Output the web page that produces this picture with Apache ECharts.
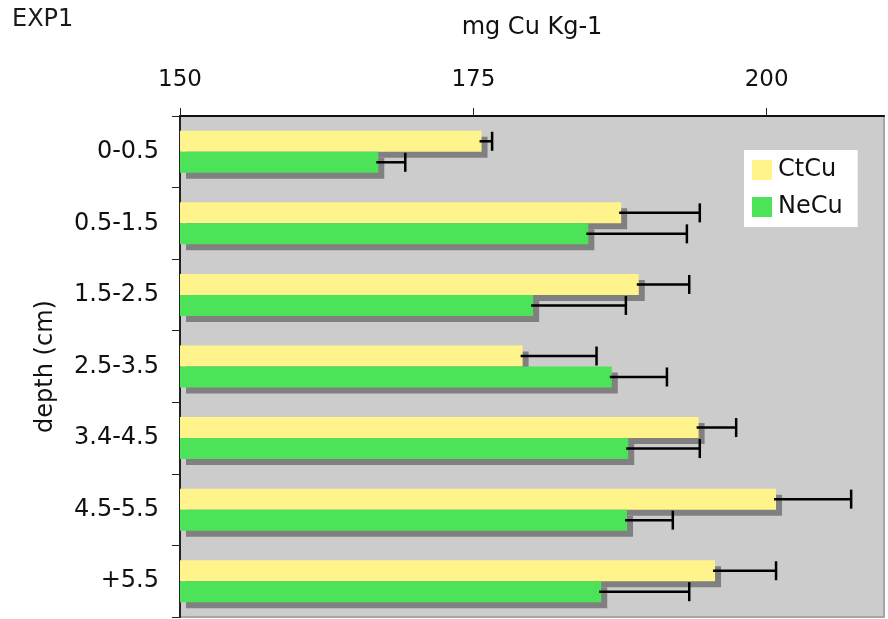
<!DOCTYPE html>
<html>
<head>
<meta charset="utf-8">
<script src="https://cdn.jsdelivr.net/npm/echarts@6/dist/echarts.min.js"></script>
<style>
html,body{margin:0;padding:0;background:#fff;}
#c{width:888px;height:619px;}
</style>
</head>
<body>
<div id="c"></div>
<script>
var categories = ['0-0.5', '0.5-1.5', '1.5-2.5', '2.5-3.5', '3.4-4.5', '4.5-5.5', '+5.5'];
var ctCu    = [175.7, 187.6, 189.1, 179.2, 194.2, 200.8, 195.6];
var ctCuErr = [0.9, 6.7, 4.3, 6.3, 3.2, 6.4, 5.2];
var neCu    = [166.9, 184.8, 180.1, 186.8, 188.2, 188.1, 185.9];
var neCuErr = [2.3, 8.4, 7.9, 4.7, 6.1, 3.9, 7.5];
var xTicks  = [150, 175, 200];

var FONT = 'DejaVu Sans';
var chart = echarts.init(document.getElementById('c'), null, {renderer: 'canvas'});

function errSeries(vals, errs, offset) {
  return {
    type: 'custom',
    z: 10,
    silent: true,
    encode: {x: 0, y: 1},
    data: vals.map(function (v, i) { return [v, i, errs[i]]; }),
    renderItem: function (params, api) {
      var v = api.value(0), c = api.value(1), e = api.value(2);
      var p0 = api.coord([v, c]);
      var p1 = api.coord([v + e, c]);
      var y = p0[1] + offset;
      var st = {stroke: '#000', lineWidth: 2.5};
      return {
        type: 'group',
        children: [
          {type: 'line', shape: {x1: p0[0] - 2, y1: y, x2: p1[0], y2: y}, style: st},
          {type: 'line', shape: {x1: p1[0], y1: y - 9.5, x2: p1[0], y2: y + 9.5}, style: st}
        ]
      };
    }
  };
}

var shadow = {shadowColor: '#808080', shadowBlur: 0, shadowOffsetX: 6, shadowOffsetY: 6};

chart.setOption({
  animation: false,
  backgroundColor: '#ffffff',
  textStyle: {fontFamily: FONT},
  title: {
    text: 'EXP1', left: 7, top: 3,
    textStyle: {fontFamily: FONT, fontSize: 24, fontWeight: 'normal', color: '#1a1a1a'}
  },
  legend: {
    data: ['CtCu', 'NeCu'],
    orient: 'vertical',
    left: 744, top: 150,
    padding: [8, 15, 8, 8],
    backgroundColor: '#ffffff',
    itemWidth: 20, itemHeight: 20, itemGap: 13,
    icon: 'rect',
    itemStyle: {shadowColor: 'rgba(0,0,0,0)', shadowBlur: 0, shadowOffsetX: 0, shadowOffsetY: 0},
    textStyle: {fontFamily: FONT, fontSize: 24, color: '#111', padding: [0, 0, 0, 1]}
  },
  grid: {
    left: 180, right: 4, top: 116, bottom: 2,
    show: true, backgroundColor: '#cccccc', borderColor: '#a6a6a6', borderWidth: 2,
    containLabel: false
  },
  xAxis: {
    type: 'value', position: 'top',
    min: 150, max: 210, interval: 25,
    name: 'mg Cu Kg-1', nameLocation: 'middle', nameGap: 76,
    nameTextStyle: {fontFamily: FONT, fontSize: 24, color: '#111'},
    axisLine: {show: true, lineStyle: {color: '#111', width: 2}},
    axisTick: {show: true, length: 8, lineStyle: {color: '#222', width: 1}, customValues: xTicks},
    axisLabel: {margin: 24, fontFamily: FONT, fontSize: 23, color: '#111', customValues: xTicks},
    splitLine: {show: false}
  },
  yAxis: {
    type: 'category', inverse: true,
    data: categories,
    name: 'depth (cm)', nameLocation: 'middle', nameGap: 122, nameRotate: 90,
    nameTextStyle: {fontFamily: FONT, fontSize: 24, color: '#111'},
    axisLine: {show: true, lineStyle: {color: '#222', width: 2}},
    axisTick: {show: true, length: 8, lineStyle: {color: '#222', width: 1}},
    axisLabel: {margin: 21, fontFamily: FONT, fontSize: 24, color: '#111'},
    splitLine: {show: false}
  },
  series: [
    {
      name: 'CtCu', type: 'bar', data: ctCu, barWidth: 21, barGap: '0%',
      itemStyle: Object.assign({color: '#fff38b'}, shadow)
    },
    {
      name: 'NeCu', type: 'bar', data: neCu, barWidth: 21, barGap: '0%',
      itemStyle: Object.assign({color: '#4de358'}, shadow)
    },
    errSeries(ctCu, ctCuErr, -10.5),
    errSeries(neCu, neCuErr, 10.5)
  ]
});
</script>
</body>
</html>
